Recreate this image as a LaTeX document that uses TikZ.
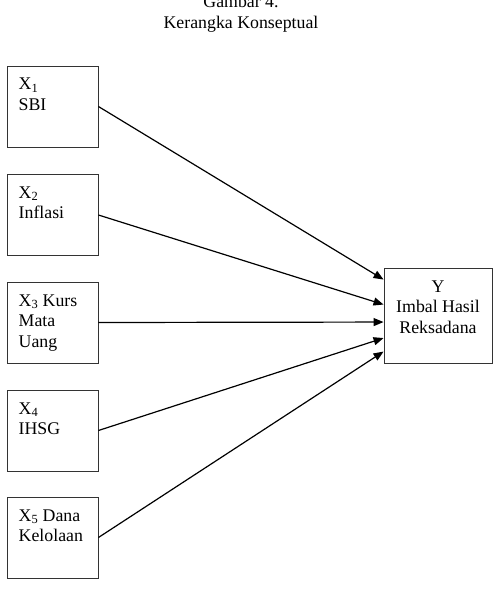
\documentclass[tikz,border=0pt]{standalone}
\usepackage{fontspec}
\setmainfont{Liberation Serif}
\usetikzlibrary{arrows.meta,calc}
\begin{document}
\begin{tikzpicture}[x=1pt,y=-1pt,
  every node/.style={font=\fontsize{17.8}{20.5}\selectfont},
  varbox/.style={draw=black!80, line width=0.9pt, minimum width=91pt, minimum height=81pt, inner sep=0pt},
  ybox/.style={draw=black!80, line width=0.9pt, minimum width=108pt, minimum height=95pt, inner sep=0pt},
  boxtext/.style={anchor=base west, align=left, inner sep=0pt},
  link/.style={line width=1.2pt, -{Triangle[length=10pt,width=8pt]}}]
\useasboundingbox (0,0) rectangle (499,592);
\node[align=center, inner sep=0pt, anchor=base] (title) at (241,28) {Gambar 4.\\Kerangka Konseptual};
\node[varbox] (b1) at (52.5,106.5) {};
\node[varbox] (b2) at (52.5,215) {};
\node[varbox] (b3) at (52.5,322.5) {};
\node[varbox] (b4) at (52.5,430.5) {};
\node[varbox] (b5) at (52.5,537.5) {};
\node[ybox] (y) at (438,315.5) {};
\node[boxtext] (t1) at (18.5,110) {X\textsubscript{1}\\SBI};
\node[boxtext] (t2) at (18.5,218.5) {X\textsubscript{2}\\Inflasi};
\node[boxtext] (t3) at (18.5,347) {X\textsubscript{3} Kurs\\Mata\\Uang};
\node[boxtext] (t4) at (18.5,434.5) {X\textsubscript{4}\\IHSG};
\node[boxtext] (t5) at (18.5,541.5) {X\textsubscript{5} Dana\\Kelolaan};
\node[anchor=base, align=center, inner sep=0pt] (ty) at (438,333) {Y\\Imbal Hasil\\Reksadana};
\coordinate (e1) at ($(y.north west)+(0,12)$);
\coordinate (e2) at ($(y.north west)+(0,37)$);
\coordinate (e3) at ($(y.north west)+(0,54.5)$);
\coordinate (e4) at ($(y.north west)+(0,70.5)$);
\coordinate (e5) at ($(y.north west)+(0,84)$);
\draw[link] (b1.east) -- (e1);
\draw[link] (b2.east) -- (e2);
\draw[link] (b3.east) -- (e3);
\draw[link] (b4.east) -- (e4);
\draw[link] (b5.east) -- (e5);
\end{tikzpicture}
\end{document}
